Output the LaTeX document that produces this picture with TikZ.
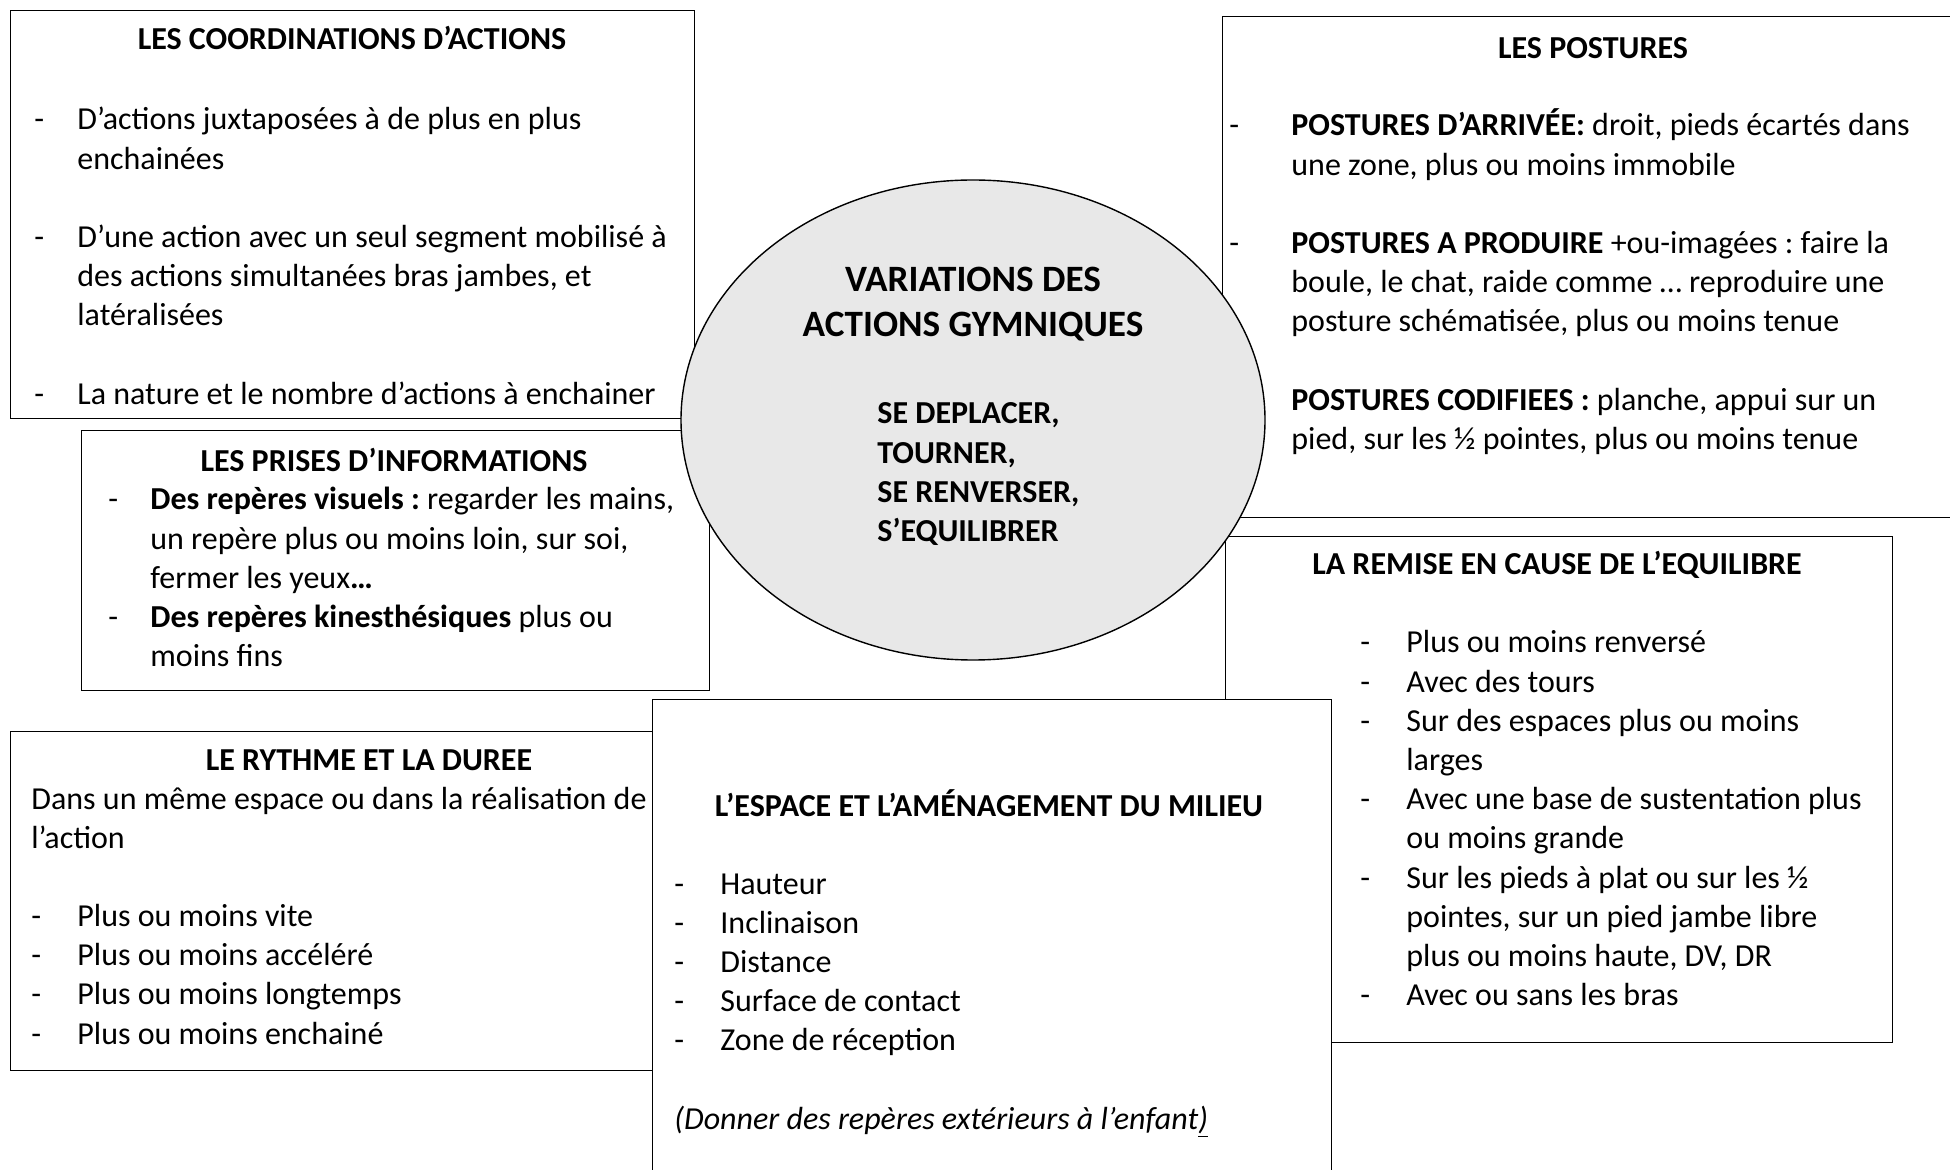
\documentclass[tikz,border=0pt]{standalone}
\usepackage{fontspec}
\setmainfont{Carlito}
\usepackage{tikz}
\usetikzlibrary{shapes.geometric}
\definecolor{EllGris}{HTML}{E8E8E8}
\newcommand{\corps}{\fontsize{16}{19.6}\selectfont}
\frenchspacing

\begin{document}
\begin{tikzpicture}[x=0.5pt, y=-0.5pt,
                    every node/.style={inner sep=0pt, font=\corps},
                    cadre/.style={draw, line width=0.7pt, fill=white, anchor=north west},
                    titre/.style={anchor=base, font=\corps\bfseries},
                    liste/.style={anchor=base west}]
  \useasboundingbox (0,0) rectangle (1950,1170);
  \clip (0,0) rectangle (1950,1170);
  \fill[white] (0,0) rectangle (1950,1170);
  \node[cadre, minimum width=342pt, minimum height=204pt] (coord) at (10,10) {};
  \node[cadre, minimum width=371pt, minimum height=250.5pt] (postures) at (1222,16) {};
  \node[cadre, minimum width=314pt, minimum height=130pt] (prises) at (81,430) {};
  \node[cadre, minimum width=321pt, minimum height=169.5pt] (rythme) at (10,731) {};
  \node[cadre, minimum width=333.5pt, minimum height=253pt] (remise) at (1225,536) {};
  \node[cadre, minimum width=339.5pt, minimum height=250pt] (espace) at (652,699) {};
  \node[draw, ellipse, fill=EllGris, line width=0.7pt,
        minimum width=292pt, minimum height=240pt] (centre) at (973,420) {};
  \node[anchor=base, font=\fontsize{18.6}{22.5}\selectfont\bfseries] (variations) at (973,292)
    {\begin{tabular}[t]{@{}c@{}}VARIATIONS DES\\ACTIONS GYMNIQUES\end{tabular}};
  \node[liste, font=\corps\bfseries] (verbes) at (877,424)
    {\begin{tabular}[t]{@{}l@{}}SE DEPLACER,\\TOURNER,\\SE RENVERSER,\\S’EQUILIBRER\end{tabular}};
  \node[titre] (coordtitre) at (352,50) {LES COORDINATIONS D’ACTIONS};
  \node[liste] (coordtxt) at (34,130) {\begin{tabular}[t]{@{}p{21.5pt}@{}l@{}}
    - & D’actions juxtaposées à de plus en plus\\
      & enchainées\\
      & \\
    - & D’une action avec un seul segment mobilisé à\\
      & des actions simultanées bras jambes, et\\
      & latéralisées\\
      & \\
    - & La nature et le nombre d’actions à enchainer
  \end{tabular}};
  \node[titre] (posturestitre) at (1593,59) {LES POSTURES};
  \node[liste] (posturestxt) at (1229,136) {\begin{tabular}[t]{@{}p{31pt}@{}l@{}}
    - & \textbf{POSTURES D’ARRIVÉE:} droit, pieds écartés dans\\
      & une zone, plus ou moins immobile\\
      & \\
    - & \textbf{POSTURES A PRODUIRE} +ou-imagées : faire la\\
      & boule, le chat, raide comme … reproduire une\\
      & posture schématisée, plus ou moins tenue\\
      & \\
      & \textbf{POSTURES CODIFIEES :} planche, appui sur un\\
      & pied, sur les ½ pointes, plus ou moins tenue
  \end{tabular}};
  \node[titre] (prisestitre) at (394,472) {LES PRISES D’INFORMATIONS};
  \node[liste] (prisestxt) at (108,510) {\begin{tabular}[t]{@{}p{21pt}@{}l@{}}
    - & \textbf{Des repères visuels :} regarder les mains,\\
      & un repère plus ou moins loin, sur soi,\\
      & fermer les yeux\textbf{…}\\
    - & \textbf{Des repères kinesthésiques} plus ou\\
      & moins fins
  \end{tabular}};
  \node[titre] (rythmetitre) at (369,770) {LE RYTHME ET LA DUREE};
  \node[liste] (rythmetxt) at (31,809) {\begin{tabular}[t]{@{}p{23pt}@{}l@{}}
    \multicolumn{2}{@{}l@{}}{Dans un même espace ou dans la réalisation de}\\
    \multicolumn{2}{@{}l@{}}{l’action}\\
      & \\
    - & Plus ou moins vite\\
    - & Plus ou moins accéléré\\
    - & Plus ou moins longtemps\\
    - & Plus ou moins enchainé
  \end{tabular}};
  \node[titre] (espacetitre) at (989,816) {L’ESPACE ET L’AMÉNAGEMENT DU MILIEU};
  \node[liste] (espacetxt) at (674,894) {\begin{tabular}[t]{@{}p{23pt}@{}l@{}}
    - & Hauteur\\
    - & Inclinaison\\
    - & Distance\\
    - & Surface de contact\\
    - & Zone de réception\\
      & \\
    \multicolumn{2}{@{}l@{}}{\itshape (Donner des repères extérieurs à l’enfant\underline{)}}
  \end{tabular}};
  \node[titre] (remisetitre) at (1557,575) {LA REMISE EN CAUSE DE L’EQUILIBRE};
  \node[liste] (remisetxt) at (1360,653) {\begin{tabular}[t]{@{}p{23pt}@{}l@{}}
    - & Plus ou moins renversé\\
    - & Avec des tours\\
    - & Sur des espaces plus ou moins\\
      & larges\\
    - & Avec une base de sustentation plus\\
      & ou moins grande\\
    - & Sur les pieds à plat ou sur les ½\\
      & pointes, sur un pied jambe libre\\
      & plus ou moins haute, DV, DR\\
    - & Avec ou sans les bras
  \end{tabular}};
\end{tikzpicture}
\end{document}
